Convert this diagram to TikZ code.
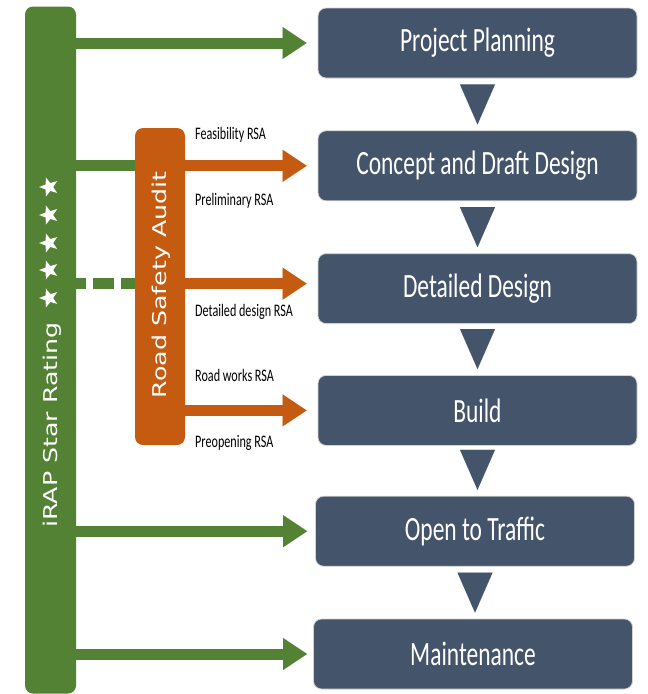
\documentclass[tikz,border=0pt]{standalone}
\usepackage{fontspec}
\usepackage{tikz}
\usetikzlibrary{arrows.meta, positioning, shapes.geometric}
\newfontfamily\calib[FakeStretch=0.69]{Carlito}
\newfontfamily\verd[FakeStretch=1.33]{DejaVu Sans}
\definecolor{stageblue}{HTML}{44546A}
\definecolor{irapgreen}{HTML}{548235}
\definecolor{rsaorange}{HTML}{C55A11}

\begin{document}
\begin{tikzpicture}[
  x=1pt, y=-1pt,
  stage/.style   = {rectangle, fill=stageblue, draw=gray!35, line width=0.8pt, rounded corners=8pt,
                    minimum width=319pt, minimum height=70pt, text=white,
                    font=\calib\fontsize{34}{40}\selectfont},
  ratebar/.style = {rectangle, fill=irapgreen, rounded corners=8pt, minimum width=51pt, minimum height=687pt},
  rsabar/.style  = {rectangle, fill=rsaorange, rounded corners=8pt, minimum width=50pt, minimum height=317pt},
  vtext/.style   = {rotate=90, text=white, inner sep=0pt, font=\verd\fontsize{19}{22}\selectfont},
  lbl/.style     = {anchor=base west, inner sep=0pt, font=\calib\fontsize{17.6}{20}\selectfont},
  starnode/.style= {star, star points=5, star point ratio=2.4, fill=white, inner sep=0pt,
                    minimum size=20pt, shape border rotate=90},
  garr/.style    = {-{Triangle[length=24pt, width=32pt, line width=0.01pt]}, irapgreen, line width=11pt, shorten >=11pt},
  oarr/.style    = {-{Triangle[length=24pt, width=32pt, line width=0.01pt]}, rsaorange, line width=11pt, shorten >=11pt},
  gline/.style   = {irapgreen, line width=11pt},
  gdash/.style   = {gline, dash pattern=on 21pt off 7pt, dash phase=11pt},
  down/.style    = {-{Triangle[length=40pt, width=35pt, line width=0.01pt]}, stageblue, line width=0.01pt,
                    shorten <=6pt, shorten >=6pt}
]
\useasboundingbox (0,0) rectangle (648,694);

% project stages
\node[stage] (pp) at (477.5,43) {Project Planning};
\node[stage, below=52pt of pp] (cd) {Concept and Draft Design};
\node[stage, below=52pt of cd] (dd) {Detailed Design};
\node[stage, below=51pt of dd] (bu) {Build};
\node[stage, below=50pt of bu, xshift=-2.5pt] (ot) {Open to Traffic};
\node[stage, below=52pt of ot, xshift=-2pt] (mt) {Maintenance};

\foreach \a/\b in {pp/cd, cd/dd, dd/bu, bu/ot, ot/mt}
  \draw[down] (\a.south) -- (\a.south |- \b.north);

% side bars
\node[ratebar] (rating) at (50.5,350) {};
\node[vtext] (ratingtxt) at (52.5,425) {iRAP Star Rating};
\foreach \y [count=\i] in {187,215,243,270,298}
  \node[starnode] (star\i) at (49,\y) {};

\node[rsabar] (rsa) at (160,286.5) {};
\node[vtext] (rsatxt) at (161.5,285) {Road Safety Audit};

% audit labels
\node[lbl] (feas) at (195,139) {Feasibility RSA};
\node[lbl] (prel) at (195,205) {Preliminary RSA};
\node[lbl] (dets) at (195,316) {Detailed design RSA};
\node[lbl] (rdwk) at (195,381) {Road works RSA};
\node[lbl] (preo) at (195,447) {Preopening RSA};

% connectors
\coordinate (ddin) at ([yshift=5pt]dd.west);
\draw[garr] (rating.east |- pp.west) -- (pp.west);
\draw[gline] (rating.east |- cd.west) -- (rsa.west |- cd.west);
\draw[oarr] (rsa.east |- cd.west) -- (cd.west);
\draw[gdash] (rating.east |- ddin) -- (rsa.west |- ddin);
\draw[oarr] (rsa.east |- ddin) -- (ddin);
\draw[oarr] (rsa.east |- bu.west) -- (bu.west);
\draw[garr, shorten >=8pt] (rating.east |- ot.west) -- (ot.west);
\draw[garr, shorten >=6pt] (rating.east |- mt.west) -- (mt.west);
\end{tikzpicture}
\end{document}
